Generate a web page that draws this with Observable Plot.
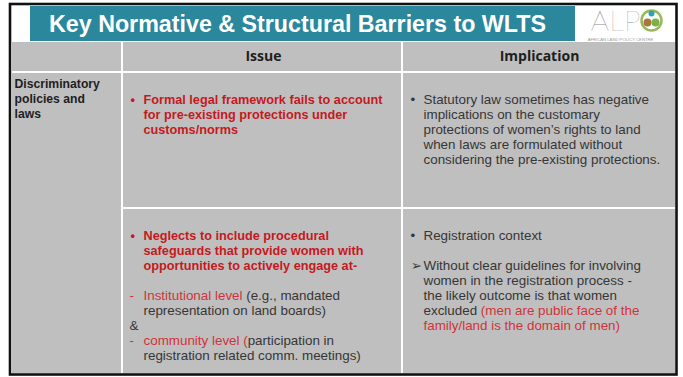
<!DOCTYPE html>
<html><head><meta charset="utf-8">
<script src="https://cdn.jsdelivr.net/npm/d3@7"></script>
<script src="https://cdn.jsdelivr.net/npm/@observablehq/plot@0.6"></script>
<style>html,body{margin:0;padding:0;background:#fff;}</style>
</head><body><div id="chart"></div>
<script>
// ---------- data ----------
const title = "Key Normative & Structural Barriers to WLTS";
const columns = ["", "Issue", "Implication"];
const rowLabel = ["Discriminatory", "policies and", "laws"];
const logoLetters = "ALP";
const logoCaption = "AFRICAN LAND POLICY CENTRE";

// each line: slot within its cell, optional marker, segments [text, style]
const issue1 = [
  {slot:0, marker:"•", mstyle:"redBold", segs:[["Formal legal framework fails to account","redBold"]]},
  {slot:1, segs:[["for pre-existing protections under","redBold"]]},
  {slot:2, segs:[["customs/norms","redBold"]]}
];
const implication1 = [
  {slot:0, marker:"•", mstyle:"dark", segs:[["Statutory law sometimes has negative","dark"]]},
  {slot:1, segs:[["implications on the customary","dark"]]},
  {slot:2, segs:[["protections of women’s rights to land","dark"]]},
  {slot:3, segs:[["when laws are formulated without","dark"]]},
  {slot:4, segs:[["considering the pre-existing protections.","dark"]]}
];
const issue2 = [
  {slot:0, marker:"•", mstyle:"redBold", segs:[["Neglects to include procedural","redBold"]]},
  {slot:1, segs:[["safeguards that provide women with","redBold"]]},
  {slot:2, segs:[["opportunities to actively engage at-","redBold"]]},
  {slot:4, marker:"-", mstyle:"red", segs:[["Institutional level","red"],[" (e.g., mandated","dark"]]},
  {slot:5, segs:[["representation on land boards)","dark"]]},
  {slot:6, marker:"&", mstyle:"dark", segs:[]},
  {slot:7, marker:"-", mstyle:"red", segs:[["community level (","red"],["participation in","dark"]]},
  {slot:8, segs:[["registration related comm. meetings)","dark"]]}
];
const implication2 = [
  {slot:0, marker:"•", mstyle:"dark", segs:[["Registration context","dark"]]},
  {slot:2, marker:"➢", mstyle:"dark", segs:[["Without clear guidelines for involving","dark"]]},
  {slot:3, segs:[["women in the registration process -","dark"]]},
  {slot:4, segs:[["the likely outcome is that women","dark"]]},
  {slot:5, segs:[["excluded ","dark"],["(men are public face of the","red"]]},
  {slot:6, segs:[["family/land is the domain of men)","red"]]}
];

// ---------- layout & styles ----------
const W = 683, H = 377;
const colX = [11, 123, 403, 675];      // column edges
const headerY = [42, 71];
const rowY = [[73, 207], [209, 373]];
const lineH = 15, firstOffset = 26;
const textX = [14, 143, 423];
const markerX = [14, 130, 410];
const BODY = "Liberation Sans";
const FONT = `'${BODY}', Arial, sans-serif`;
const TITLE_FONT = "'Liberation Sans Narrow', 'Liberation Sans', sans-serif";
const styles = {
  redBold: {fill:"#c5191d", weight:"bold", size:12.7},
  red:     {fill:"#d0343a", weight:"normal", size:13.4},
  dark:    {fill:"#363636", weight:"normal", size:13.4}
};

const ctx = document.createElement("canvas").getContext("2d");
function measureFont(t, font) { ctx.font = font; return ctx.measureText(t).width; }
function measure(t, st) {
  return measureFont(t, `${st.weight === "bold" ? 700 : 400} ${st.size}px '${BODY}'`);
}
// title size so its natural width fills the banner text area
const titleWidth = 497;
const titleSize = Math.min(29, 28 * titleWidth / measureFont(title, `700 28px ${TITLE_FONT}`));

// build text rows
const texts = [];
function addCell(lines, col, row) {
  const top = rowY[row][0];
  for (const ln of lines) {
    const y = top + firstOffset + ln.slot * lineH;
    if (ln.marker) {
      const mx = ln.marker === "-" || ln.marker === "&" ? markerX[col] - 1 : markerX[col];
      texts.push({x: mx, y, text: ln.marker, style: ln.mstyle});
    }
    let x = textX[col];
    for (const [t, s] of ln.segs) {
      texts.push({x, y, text: t, style: s});
      x += measure(t, styles[s]);
    }
  }
}
addCell(issue1, 1, 0);
addCell(implication1, 2, 0);
addCell(issue2, 1, 1);
addCell(implication2, 2, 1);

const labelRows = rowLabel.map((t, i) => ({x: textX[0], y: rowY[0][0] + 11 + i * lineH, text: t}));

// cells
const cells = [];
for (let c = 0; c < 3; c++) cells.push({x1: colX[c], x2: colX[c+1] - (c < 2 ? 2 : 0), y1: headerY[0], y2: headerY[1]});
cells.push({x1: colX[0], x2: colX[1] - 2, y1: rowY[0][0], y2: rowY[1][1]});
for (let c = 1; c < 3; c++) for (const [a, b] of rowY) cells.push({x1: colX[c], x2: colX[c+1] - (c < 2 ? 2 : 0), y1: a, y2: b});

const headers = columns.map((t, i) => ({x: (colX[i] + colX[i+1]) / 2, y: (headerY[0] + headerY[1]) / 2, text: t})).filter(d => d.text);

const textMarks = Object.entries(styles).map(([k, st]) =>
  Plot.text(texts.filter(d => d.style === k), {
    x: "x", y: "y", text: "text", textAnchor: "start", lineAnchor: "middle",
    fill: st.fill, fontSize: st.size, fontWeight: st.weight, fontFamily: FONT
  })
);

const chart = Plot.plot({
  width: W, height: H, margin: 0,
  x: {domain: [0, W], range: [0, W], axis: null},
  y: {domain: [0, H], range: [0, H], axis: null},
  style: {background: "#fff"},
  marks: [
    Plot.rect([{x1: 10, x2: 676.5, y1: 4, y2: 374.5}], {x1:"x1", x2:"x2", y1:"y1", y2:"y2", fill:"#fff", stroke:"#111", strokeWidth: 2.6}),
    Plot.rect([{x1: 30, x2: 575, y1: 6, y2: 41}], {x1:"x1", x2:"x2", y1:"y1", y2:"y2", fill:"#2a879c"}),
    Plot.text([{x: 297, y: 24, text: title}], {x:"x", y:"y", text:"text", fill:"#fff", fontSize: titleSize, fontWeight:"bold", fontFamily: TITLE_FONT, lineAnchor:"middle"}),
    // logo
    Plot.text([{x: 590, y: 30.5, text: logoLetters}], {x:"x", y:"y", text:"text", textAnchor:"start", lineAnchor:"bottom", fill:"#8c8c8c", fontSize: 28, fontWeight: 200, fontFamily:"Lato, 'Open Sans', sans-serif", className:"logo"}),
    Plot.dot([{x: 651, y: 20}], {x:"x", y:"y", r: 10, stroke:"#9ab85a", strokeWidth: 2.5, fill:"none"}),
    Plot.dot([{x: 651, y: 13}], {x:"x", y:"y", r: 3, fill:"#2aa3bf"}),
    Plot.dot([{x: 647, y: 22}], {x:"x", y:"y", r: 4, fill:"#a7773f"}),
    Plot.dot([{x: 655, y: 22}], {x:"x", y:"y", r: 4, fill:"#7bb04a"}),
    Plot.text([{x: 620, y: 39.2, text: logoCaption}], {x:"x", y:"y", text:"text", fill:"#9a9a9a", fontSize: 4.2, fontFamily:"'Liberation Sans', sans-serif", lineAnchor:"middle"}),
    // table
    Plot.rect(cells, {x1:"x1", x2:"x2", y1:"y1", y2:"y2", fill:"#bfbfbf"}),
    Plot.text(headers, {x:"x", y:"y", text:"text", fill:"#1e1e1e", fontSize: 14, fontWeight:"bold", fontFamily:"'Open Sans', sans-serif", lineAnchor:"middle"}),
    Plot.text(labelRows, {x:"x", y:"y", text:"text", textAnchor:"start", lineAnchor:"middle", fill:"#1e1e1e", fontSize: 12.2, fontWeight:"bold", fontFamily: FONT}),
    ...textMarks
  ]
});
document.getElementById("chart").appendChild(chart);
// thin logo lettering spans the same width as in the original mark
const l = chart.querySelector("g.logo text");
if (l) { l.setAttribute("textLength", 50); l.setAttribute("lengthAdjust", "spacingAndGlyphs"); }
</script>
</body></html>
